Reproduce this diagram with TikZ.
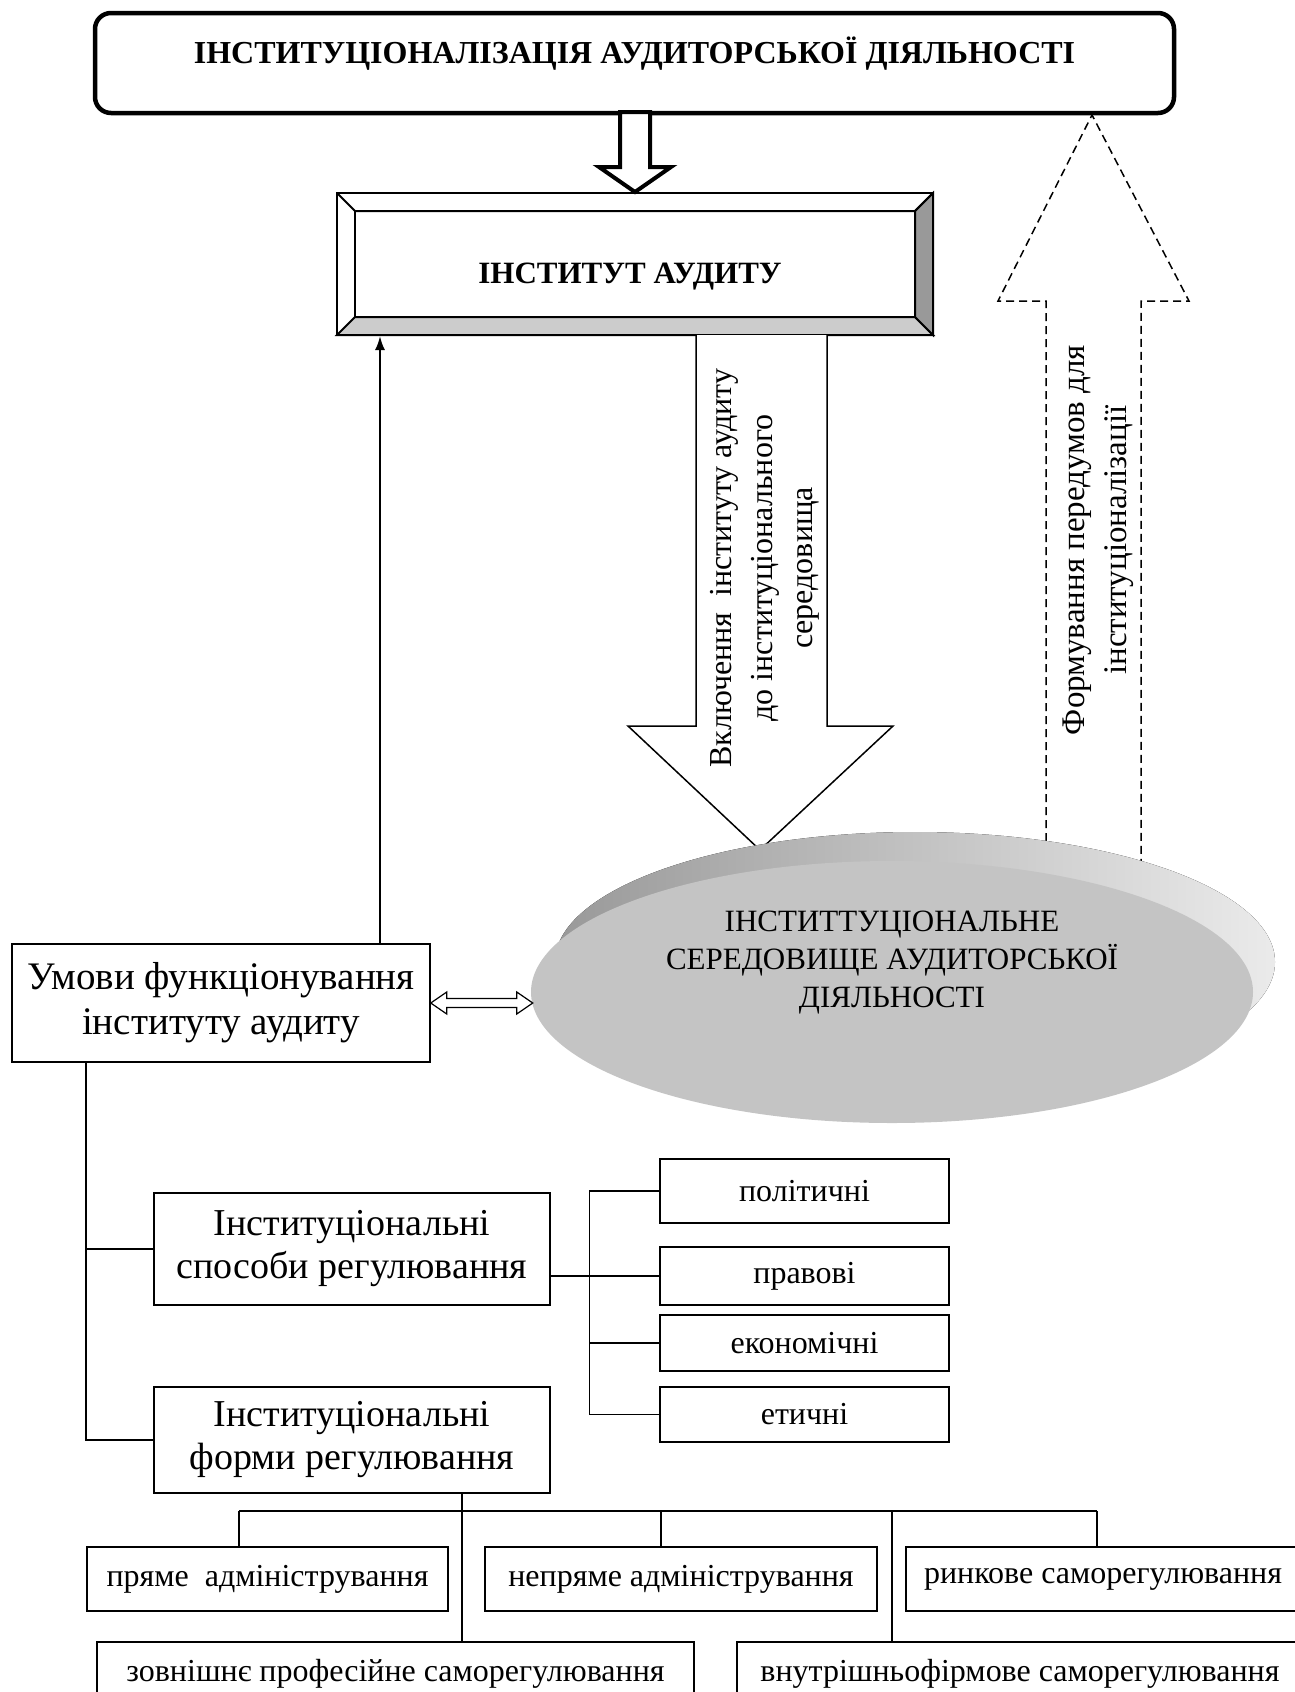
\documentclass[tikz,border=0pt]{standalone}
\usepackage{fontspec}
\setmainfont{Liberation Serif}
\usetikzlibrary{shapes.geometric,arrows.meta}

\tikzset{
  box/.style={draw, line width=1.5pt, fill=white, align=center, inner sep=0pt,
    font=\fontsize{32}{40}\selectfont},
  bigbox/.style={box, font=\fontsize{38}{43}\selectfont},
  link/.style={line width=1.5pt},
  blockarrow/.style={line width=1.5pt, fill=white},
}

\begin{document}
\begin{tikzpicture}[x=1pt,y=-1pt]
\useasboundingbox (0,0) rectangle (1295,1692);

% top level
\node[draw, line width=4.5pt, rounded corners=16pt, minimum width=1079pt, minimum height=100pt,
  text height=20pt, text depth=20pt, font=\bfseries\fontsize{32}{40}\selectfont] (izac) at (634.5,63)
  {ІНСТИТУЦІОНАЛІЗАЦІЯ АУДИТОРСЬКОЇ ДІЯЛЬНОСТІ};

% institute (bevelled box)
\node[draw, line width=2pt, minimum width=596pt, minimum height=142pt, inner sep=0pt] (inst) at (635,264) {};
\draw[line width=2pt, fill=black!20] (337,335) -- (355,317) -- (915,317) -- (933,335) -- cycle;
\draw[line width=2pt, fill=black!40] (933,193) -- (915,211) -- (915,317) -- (933,335) -- cycle;
\draw[line width=2pt] (337,193) -- (355,211) -- (915,211) -- (933,193);
\draw[line width=2pt] (355,211) -- (355,317);
\node[font=\bfseries\fontsize{31}{38}\selectfont] at (630,277) {ІНСТИТУТ АУДИТУ};

\draw[line width=4pt, fill=white] (inst.north) -- ++(-36,-25) -- ++(21,0) -- ++(0,-55)
  -- ++(30,0) -- ++(0,55) -- ++(21,0) -- cycle;

% down arrow into the environment
\draw[blockarrow] (696,335) -- (696,726) -- (628,726) -- (760,850) -- (893,726) -- (827,726) -- (827,335);
\node[rotate=90, align=center, font=\fontsize{32}{40.5}\selectfont] at (765,568)
  {Включення \ інституту аудиту\\до інституціонального\\середовища};

% dashed arrow up
\draw[line width=1.5pt, dash pattern=on 8pt off 5pt] (1046,880) -- (1046,301) -- (998,301)
  -- (1092,115) -- (1189,301) -- (1141,301) -- (1141,880);
\node[rotate=90, align=center, font=\fontsize{33}{42}\selectfont] at (1098,540)
  {Формування передумов для\\інституціоналізації};

% environment
\fill[left color=black!40, middle color=black!37, right color=black!8] (915,962) ellipse [x radius=360pt, y radius=130pt];
\node[ellipse, fill=black!23, minimum width=722pt, minimum height=262pt, inner sep=0pt] (env) at (892,992) {};
\node[align=center, font=\fontsize{31}{38}\selectfont] at (892,963)
  {ІНСТИТТУЦІОНАЛЬНЕ\\СЕРЕДОВИЩЕ АУДИТОРСЬКОЇ\\ДІЯЛЬНОСТІ};

% conditions
\node[box, minimum width=418pt, minimum height=118pt, font=\fontsize{39}{45}\selectfont] (umovy) at (221,1003)
  {Умови функціонування\\інституту аудиту};
\coordinate (up) at (380,0);
\draw[line width=2pt, -{Latex[length=14pt,width=10pt]}] (umovy.north -| up) -- (inst.south -| up);
\draw[line width=1.2pt, fill=white] (umovy.east) -- ++(16,-11) -- ++(0,6.5) -- ++(70,0) -- ++(0,-6.5)
  -- ++(16,11) -- ++(-16,11) -- ++(0,-6.5) -- ++(-70,0) -- ++(0,6.5) -- cycle;

% ways and forms
\node[bigbox, minimum width=396pt, minimum height=112pt] (spos) at (352,1249) {Інституціональні\\способи регулювання};
\node[bigbox, minimum width=396pt, minimum height=106pt] (form) at (352,1440) {Інституціональні\\форми регулювання};
\coordinate (trunk) at (86,1100);
\draw[link] (umovy.south -| trunk) -- (form.west -| trunk) -- (form.west);
\draw[link] (spos.west -| trunk) -- (spos.west);

\node[box, minimum width=289pt, minimum height=64pt] (pol) at (804.5,1191) {політичні};
\node[box, minimum width=289pt, minimum height=58pt] (prav) at (804.5,1276) {правові};
\node[box, minimum width=289pt, minimum height=56pt] (ek) at (804.5,1343) {економічні};
\node[box, minimum width=289pt, minimum height=55pt] (et) at (804.5,1414.5) {етичні};
\draw[link] (spos.east |- prav.west) -- (prav.west);
\draw[link] (pol.west) -- ++(-70,0) |- (et.west);
\draw[link] (ek.west) -- ++(-70,0);

% forms of regulation
\node[box, minimum width=361pt, minimum height=64pt] (pr) at (267.5,1579) {пряме \ адміністрування};
\node[box, minimum width=392pt, minimum height=64pt] (nepr) at (681,1579) {непряме адміністрування};
\node[box, minimum width=394pt, minimum height=64pt] (rynk) at (1103,1579) {ринкове саморегулювання};
\node[box, minimum width=597pt, minimum height=64pt] (zovn) at (395.5,1674) {зовнішнє професійне саморегулювання};
\node[box, minimum width=566pt, minimum height=64pt] (vnut) at (1020,1674) {внутрішньофірмове саморегулювання};

\coordinate (fork) at (462,1511);
\coordinate (d1) at (239,1511);
\coordinate (d2) at (661,1511);
\coordinate (d3) at (892,1511);
\coordinate (d4) at (1097,1511);
\draw[line width=2.5pt] (d1) -- (d4);
\draw[link] (form.south -| fork) -- (fork |- zovn.north);
\draw[link] (d1) -- (d1 |- pr.north);
\draw[link] (d2) -- (d2 |- nepr.north);
\draw[link] (d3) -- (d3 |- vnut.north);
\draw[link] (d4) -- (d4 |- rynk.north);
\end{tikzpicture}
\end{document}
